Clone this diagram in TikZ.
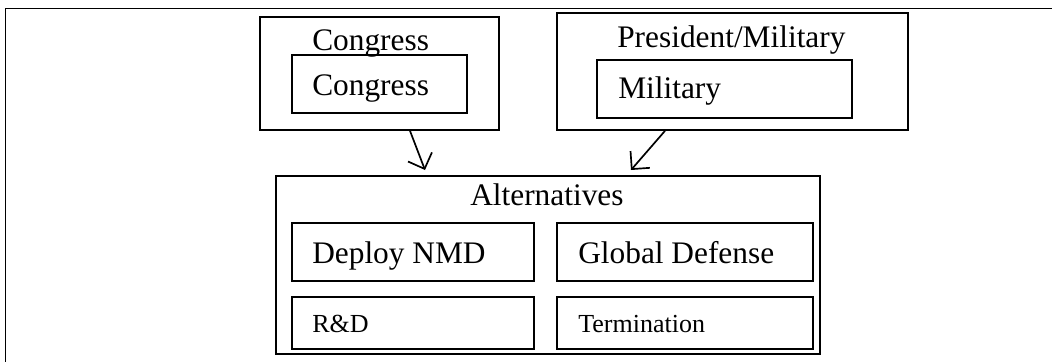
\documentclass[tikz,border=0pt]{standalone}
\usepackage{fontspec}
\setmainfont{Liberation Serif}
\usetikzlibrary{arrows.meta,fit}
\tikzset{
  box/.style={draw, line width=1.2pt, inner sep=0pt},
  bigtext/.style={anchor=base west, inner sep=0pt, font=\fontsize{22.3}{26}\selectfont},
  smalltext/.style={anchor=base west, inner sep=0pt, font=\fontsize{18.5}{22}\selectfont},
  push/.style={-{Straight Barb[length=3.2mm,width=6.4mm,line width=1.2pt]}, line width=1.2pt}
}
\begin{document}
\begin{tikzpicture}[x=0.025cm,y=-0.025cm]
\useasboundingbox (0,0) rectangle (1052,362);
\draw[line width=1.2pt] (1052,8.5) -- (5.5,8.5) -- (5.5,362);

% Congress
\node (congbox) [box, fit={(260,17) (499,130)}] {};
\node (congin) [box, fit={(292,55) (467,113)}] {};
\node (congtitle) [bigtext] at (312,50) {Congress};
\node (congname) [bigtext] at (312,95) {Congress};

% President/Military
\node (presbox) [box, fit={(557,13) (908,130)}] {};
\node (presin) [box, fit={(597,60) (852,118)}] {};
\node (prestitle) [bigtext] at (617,47) {President/Military};
\node (presname) [bigtext] at (618,98) {Military};

% Alternatives
\node (altbox) [box, fit={(276,176) (820,354)}] {};
\node (alttitle) [bigtext] at (470,205) {Alternatives};
\node (deploy) [box, fit={(292,223) (534,281)}] {};
\node (global) [box, fit={(557,223) (813,281)}] {};
\node (rnd) [box, fit={(292,297) (534,349)}] {};
\node (term) [box, fit={(557,297) (813,349)}] {};
\node (deploytext) [bigtext] at (312,263) {Deploy NMD};
\node (globaltext) [bigtext] at (578,263) {Global Defense};
\node (rndtext) [smalltext] at (312,332) {R\&D};
\node (termtext) [smalltext] at (578,332) {Termination};

\coordinate (altin1) at (425,170);
\coordinate (altin2) at (631,170);
\draw[push] (410,0 |- congbox.south) -- (altin1);
\draw[push] (665,0 |- presbox.south) -- (altin2);
\end{tikzpicture}
\end{document}
